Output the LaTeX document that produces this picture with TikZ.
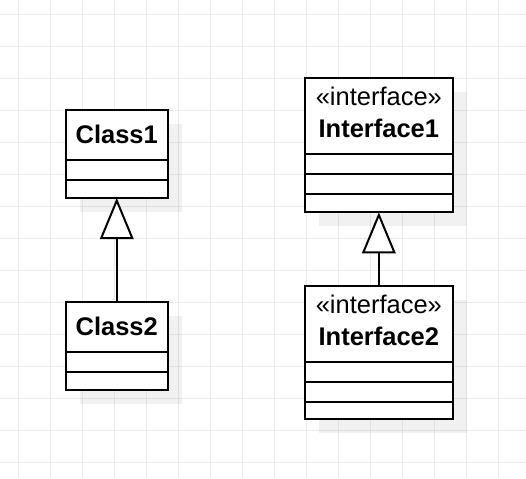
\documentclass[tikz,border=0pt]{standalone}
\usepackage{fontspec}
\setmainfont{Liberation Sans}
\usetikzlibrary{arrows.meta}
\begin{document}
\begin{tikzpicture}[x=1pt,y=-1pt,
  umlbox/.style={draw=black, line width=2pt, fill=white, rectangle, inner sep=0pt, outer sep=0pt, anchor=north west},
  boxshadow/.style={fill=black, fill opacity=0.055, draw=none},
  gridline/.style={draw=black!8, line width=1pt},
  sepline/.style={line width=2pt},
  nametext/.style={font=\fontsize{25.5}{30}\selectfont\bfseries, anchor=base, inner sep=0pt},
  stereo/.style={font=\fontsize{25.5}{30}\selectfont, anchor=base, inner sep=0pt},
  inherit/.style={line width=2pt, -{Triangle[open, fill=white, length=41pt, width=33.5pt]}}]
\useasboundingbox (0,0) rectangle (526,478);
\fill[white] (0,0) rectangle (526,478);
% grid
\foreach \k in {0,...,15} \draw[gridline] (18.3+32*\k,0) -- (18.3+32*\k,478);
\foreach \k in {0,...,14} \draw[gridline] (0,14.3+32*\k) -- (526,14.3+32*\k);
% shadows
\fill[boxshadow] (80,124) rectangle (181.5,212);
\fill[boxshadow] (80,316) rectangle (181.5,404);
\fill[boxshadow] (319,92.3) rectangle (466.7,226.3);
\fill[boxshadow] (319,300) rectangle (466.7,433.3);
% Class1
\node[umlbox, minimum width=101.5pt, minimum height=88pt] (c1) at (66,110) {};
\draw[sepline] (c1.west |- 0,160) -- (c1.east |- 0,160);
\draw[sepline] (c1.west |- 0,180) -- (c1.east |- 0,180);
\node[nametext] (c1name) at (116.75,144) {Class1};
% Class2
\node[umlbox, minimum width=101.5pt, minimum height=88pt] (c2) at (66,302) {};
\draw[sepline] (c2.west |- 0,352) -- (c2.east |- 0,352);
\draw[sepline] (c2.west |- 0,372) -- (c2.east |- 0,372);
\node[nametext] (c2name) at (116.75,335.5) {Class2};
% Interface1
\node[umlbox, minimum width=147.7pt, minimum height=134pt] (i1) at (305,78.3) {};
\draw[sepline] (i1.west |- 0,154) -- (i1.east |- 0,154);
\draw[sepline] (i1.west |- 0,174) -- (i1.east |- 0,174);
\draw[sepline] (i1.west |- 0,194.3) -- (i1.east |- 0,194.3);
\node[stereo] (i1st) at (378.85,106) {«interface»};
\node[nametext] (i1name) at (378.85,137.5) {Interface1};
% Interface2
\node[umlbox, minimum width=147.7pt, minimum height=133.3pt] (i2) at (305,286) {};
\draw[sepline] (i2.west |- 0,362.3) -- (i2.east |- 0,362.3);
\draw[sepline] (i2.west |- 0,382.3) -- (i2.east |- 0,382.3);
\draw[sepline] (i2.west |- 0,402.3) -- (i2.east |- 0,402.3);
\node[stereo] (i2st) at (378.85,313.5) {«interface»};
\node[nametext] (i2name) at (378.85,345.5) {Interface2};
% generalizations
\draw[inherit] (c2.north) -- (c1.south);
\draw[inherit] (i2.north) -- (i1.south);
\end{tikzpicture}
\end{document}
